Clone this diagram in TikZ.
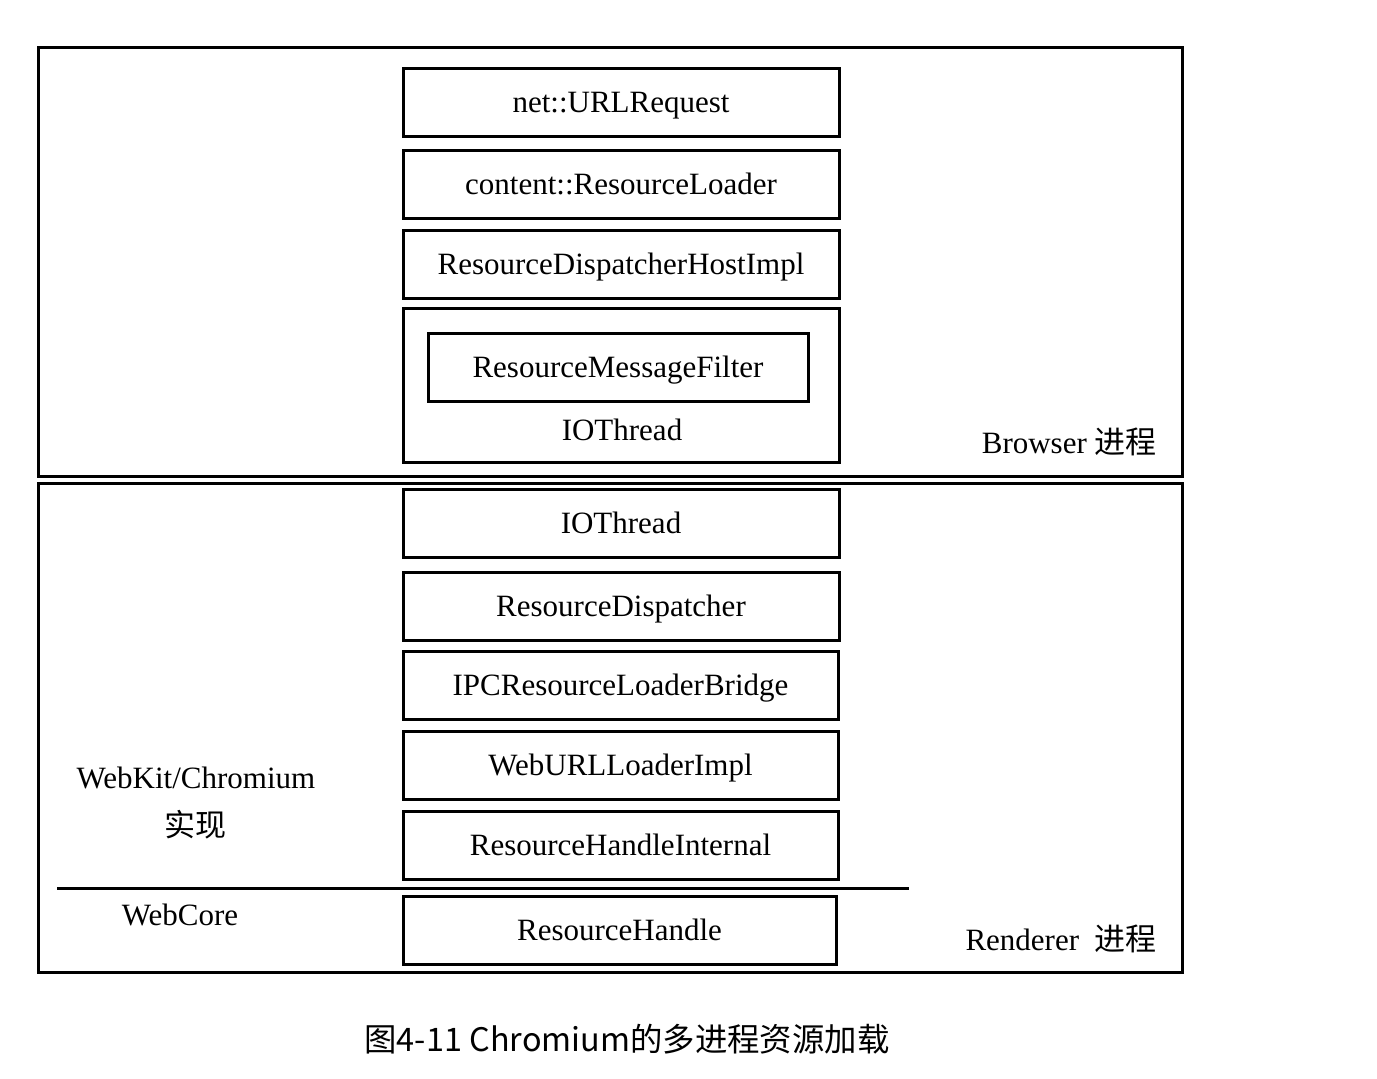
\documentclass[tikz,border=0pt]{standalone}
\usepackage{fontspec}
\setmainfont{Liberation Serif}
\newfontfamily\cjk{Noto Sans CJK SC}
\usetikzlibrary{positioning}
\tikzset{
  layer/.style={draw, line width=1.5pt, inner sep=0pt, minimum width=218pt, minimum height=34pt, text height=12pt, text depth=2pt, font=\fontsize{15.5}{18}\selectfont},
  proc/.style={draw, line width=1.5pt},
  tag/.style={inner sep=0pt, font=\fontsize{15.5}{18}\selectfont}
}
\begin{document}
\begin{tikzpicture}[x=0.5pt, y=-0.5pt]
		%%%%% START %%%%%
		\useasboundingbox (0, 0) rectangle (1377, 1078);
		
		\draw[proc] (38, 47) rectangle (1182, 476);
		\draw[proc] (38, 483) rectangle (1182, 972);
		
		\node[layer] (urlreq) at (621, 102) {net::URLRequest};
		\node[layer] (resloader) at (621, 184) {content::ResourceLoader};
		\node[layer] (dispatchhost) at (621, 264) {ResourceDispatcherHostImpl};
		\node[layer, minimum height=77pt, text height=0pt, text depth=0pt] (bthread) at (621, 385) {};
		\node[layer, minimum width=190pt] (msgfilter) at (618, 367.5) {ResourceMessageFilter};
		\node[tag] (bthreadlabel) at (622, 430) {IOThread};
		\node[tag, anchor=east] (browser) at (1157, 442) {Browser {\cjk 进程}};
		
		\node[layer] (rthread) at (621, 523) {IOThread};
		\node[layer] (dispatcher) at (621, 606) {ResourceDispatcher};
		\node[layer, minimum width=217.5pt] (bridge) at (620.5, 685) {IPCResourceLoaderBridge};
		\node[layer, minimum width=217.5pt] (urlloader) at (620.5, 765) {WebURLLoaderImpl};
		\node[layer, minimum width=217.5pt] (handleint) at (620.5, 845.5) {ResourceHandleInternal};
		\node[layer, minimum width=216.5pt] (handle) at (619.5, 930.5) {ResourceHandle};
		
		\draw[line width=1.5pt] (57, 888) -- (909, 888);
		
		\node[tag] (webkit) at (196, 778) {WebKit/Chromium};
		\node[tag] (impl) at (195, 825) {\cjk 实现};
		\node[tag] (webcore) at (180, 915) {WebCore};
		\node[tag, anchor=east] (renderer) at (1157, 939) {Renderer \ {\cjk 进程}};
		
		\node[tag, font=\cjk\fontsize{16.2}{19}\selectfont] (caption) at (627, 1039) {图4-11 Chromium的多进程资源加载};
		
		%%%%% END %%%%%
\end{tikzpicture}
\end{document}
